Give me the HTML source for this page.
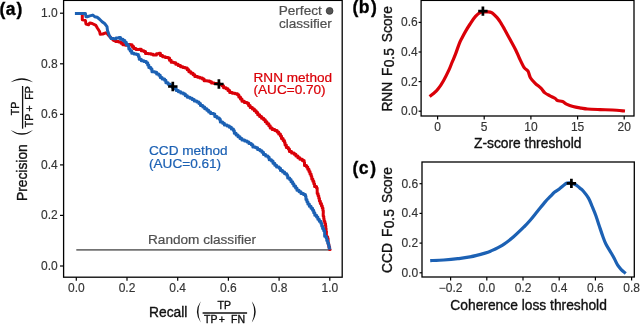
<!DOCTYPE html>
<html><head><meta charset="utf-8"><style>
html,body{margin:0;padding:0;background:#fff;width:640px;height:324px;overflow:hidden}
svg{display:block;will-change:transform}
</style></head><body>
<svg width="640" height="324" viewBox="0 0 640 324">
<rect width="640" height="324" fill="#fff"/>
<g font-family="&quot;Liberation Sans&quot;, sans-serif">
<rect x="63.6" y="0.4" width="278.6" height="276.8" fill="none" stroke="#000000" stroke-width="1.3"/>
<line x1="60" y1="266.0" x2="63.6" y2="266.0" stroke="#000000" stroke-width="1.2"/>
<text x="57.8" y="269.95" font-size="12" text-anchor="end" fill="#333333" stroke="#333333" stroke-width="0.15">0.0</text>
<line x1="60" y1="215.4" x2="63.6" y2="215.4" stroke="#000000" stroke-width="1.2"/>
<text x="57.8" y="219.35" font-size="12" text-anchor="end" fill="#333333" stroke="#333333" stroke-width="0.15">0.2</text>
<line x1="60" y1="164.9" x2="63.6" y2="164.9" stroke="#000000" stroke-width="1.2"/>
<text x="57.8" y="168.85" font-size="12" text-anchor="end" fill="#333333" stroke="#333333" stroke-width="0.15">0.4</text>
<line x1="60" y1="114.3" x2="63.6" y2="114.3" stroke="#000000" stroke-width="1.2"/>
<text x="57.8" y="118.25" font-size="12" text-anchor="end" fill="#333333" stroke="#333333" stroke-width="0.15">0.6</text>
<line x1="60" y1="63.8" x2="63.6" y2="63.8" stroke="#000000" stroke-width="1.2"/>
<text x="57.8" y="67.75" font-size="12" text-anchor="end" fill="#333333" stroke="#333333" stroke-width="0.15">0.8</text>
<line x1="60" y1="13.2" x2="63.6" y2="13.2" stroke="#000000" stroke-width="1.2"/>
<text x="57.8" y="17.15" font-size="12" text-anchor="end" fill="#333333" stroke="#333333" stroke-width="0.15">1.0</text>
<line x1="76.3" y1="277.2" x2="76.3" y2="280.8" stroke="#000000" stroke-width="1.2"/>
<text x="76.3" y="291.8" font-size="12" text-anchor="middle" fill="#333333" stroke="#333333" stroke-width="0.15">0.0</text>
<line x1="127.0" y1="277.2" x2="127.0" y2="280.8" stroke="#000000" stroke-width="1.2"/>
<text x="127.0" y="291.8" font-size="12" text-anchor="middle" fill="#333333" stroke="#333333" stroke-width="0.15">0.2</text>
<line x1="177.7" y1="277.2" x2="177.7" y2="280.8" stroke="#000000" stroke-width="1.2"/>
<text x="177.7" y="291.8" font-size="12" text-anchor="middle" fill="#333333" stroke="#333333" stroke-width="0.15">0.4</text>
<line x1="228.4" y1="277.2" x2="228.4" y2="280.8" stroke="#000000" stroke-width="1.2"/>
<text x="228.4" y="291.8" font-size="12" text-anchor="middle" fill="#333333" stroke="#333333" stroke-width="0.15">0.6</text>
<line x1="279.1" y1="277.2" x2="279.1" y2="280.8" stroke="#000000" stroke-width="1.2"/>
<text x="279.1" y="291.8" font-size="12" text-anchor="middle" fill="#333333" stroke="#333333" stroke-width="0.15">0.8</text>
<line x1="329.8" y1="277.2" x2="329.8" y2="280.8" stroke="#000000" stroke-width="1.2"/>
<text x="329.8" y="291.8" font-size="12" text-anchor="middle" fill="#333333" stroke="#333333" stroke-width="0.15">1.0</text>
<line x1="76.3" y1="249.9" x2="329.8" y2="249.9" stroke="#737373" stroke-width="1.6"/>
<text x="148" y="243.7" font-size="13.6" fill="#505050" stroke="#505050" stroke-width="0.22">Random classifier</text>
<circle cx="329.6" cy="10.9" r="3.4" fill="#555" stroke="#333" stroke-width="0.8"/>
<text x="321.8" y="14.8" font-size="13.6" text-anchor="end" fill="#505050" stroke="#505050" stroke-width="0.22">Perfect</text>
<text x="331.8" y="27.9" font-size="13.6" text-anchor="end" fill="#505050" stroke="#505050" stroke-width="0.22">classifier</text>
<path d="M75.00,13.40 L82.30,13.40 L82.30,19.80 L85.40,20.40 L86.00,24.10 L88.50,24.80 L89.80,22.90 L92.20,23.50 L95.90,25.40 L97.20,27.80 L99.60,31.50 L100.20,34.30 L102.70,34.00 L105.80,32.80 L107.00,33.40 L108.70,35.50 L113.60,40.40 L113.60,40.40 L115.69,40.40 L115.69,41.62 L118.79,41.62 L118.79,41.92 L121.05,41.92 L121.05,43.14 L122.87,43.14 L122.87,44.80 L125.49,44.80 L125.49,45.22 L127.95,45.22 L127.95,44.60 L130.34,44.60 L130.34,44.64 L132.09,44.64 L132.09,46.51 L133.63,46.51 L133.63,48.55 L136.01,48.55 L136.01,49.41 L139.33,49.41 L139.33,49.23 L141.30,49.23 L141.30,50.68 L143.93,50.68 L143.93,51.54 L145.50,51.54 L145.50,53.48 L148.41,53.48 L148.41,53.82 L151.18,53.82 L151.18,54.29 L153.22,54.29 L153.22,54.94 L156.47,54.94 L156.47,53.74 L158.97,53.74 L158.97,53.35 L160.43,53.35 L160.43,55.39 L162.65,55.39 L162.65,56.72 L165.36,56.72 L165.36,57.56 L168.22,57.56 L168.22,57.97 L169.51,57.97 L169.51,60.24 L171.17,60.24 L171.17,62.17 L173.82,62.17 L173.82,62.83 L175.76,62.83 L175.76,64.37 L178.19,64.37 L178.19,65.49 L180.56,65.49 L180.56,66.73 L182.99,66.73 L182.99,67.51 L185.27,67.51 L185.27,68.08 L187.22,68.08 L187.22,69.80 L188.88,69.80 L188.88,71.80 L190.92,71.80 L190.92,73.36 L193.09,73.36 L193.09,74.66 L194.82,74.66 L194.82,76.55 L197.69,76.55 L197.69,77.17 L199.94,77.17 L199.94,78.06 L202.42,78.06 L202.42,78.89 L204.12,78.89 L204.12,80.79 L207.31,80.79 L207.31,80.92 L209.70,80.92 L209.70,81.66 L211.50,81.66 L211.50,83.04 L214.22,83.04 L214.22,83.50 L217.10,83.50 L217.10,83.81 L219.60,83.81 L219.60,84.52 L222.01,84.52 L222.01,85.64 L223.59,85.64 L223.59,87.69 L226.08,87.69 L226.08,88.85 L227.99,88.85 L227.99,90.58 L229.70,90.58 L229.70,92.51 L232.39,92.51 L232.39,93.19 L235.11,93.19 L235.11,93.82 L237.51,93.82 L237.51,94.77 L238.81,94.77 L238.81,97.08 L240.45,97.08 L240.45,99.09 L241.98,99.09 L241.98,101.16 L244.36,101.16 L244.36,102.38 L247.07,102.38 L247.07,103.27 L248.57,103.27 L248.57,105.44 L250.17,105.44 L250.17,107.51 L252.38,107.51 L252.38,108.98 L254.37,108.98 L254.37,110.67 L256.18,110.67 L256.18,112.54 L257.72,112.54 L257.72,114.67 L259.63,114.67 L259.63,116.44 L261.55,116.44 L261.55,118.20 L263.66,118.20 L263.66,119.76 L265.27,119.76 L265.27,121.83 L266.93,121.83 L266.93,123.84 L268.81,123.84 L268.81,125.65 L270.20,125.65 L270.20,127.92 L272.20,127.92 L272.20,129.59 L274.83,129.59 L274.83,130.62 L277.09,130.62 L277.09,132.02 L278.69,132.02 L278.69,134.09 L280.42,134.09 L280.42,136.02 L281.49,136.02 L281.49,138.49 L283.11,138.49 L283.11,140.42 L284.43,140.42 L284.43,142.41 L285.07,142.41 L285.07,145.07 L286.35,145.07 L286.35,147.38 L288.36,147.38 L288.36,149.04 L289.44,149.04 L289.44,151.62 L291.61,151.62 L291.61,153.10 L294.15,153.10 L294.15,154.19 L295.89,154.19 L295.89,156.07 L297.91,156.07 L297.91,157.67 L299.90,157.67 L299.90,159.29 L302.34,159.29 L302.34,160.45 L304.15,160.45 L304.15,162.19 L304.51,162.19 L304.51,165.38 L306.55,165.38 L306.55,166.88 L307.76,166.88 L307.76,169.17 L308.98,169.17 L308.98,171.43 L310.00,171.43 L310.00,173.90 L311.09,173.90 L311.09,176.22 L311.78,176.22 L311.78,178.91 L312.87,178.91 L312.87,181.25 L313.83,181.25 L313.83,183.75 L314.57,183.75 L314.57,186.46 L316.51,186.46 L316.51,188.00 L317.17,188.00 L317.17,190.69 L317.20,190.69 L317.20,193.62 L318.05,193.62 L318.05,195.86 L318.77,195.86 L318.77,198.37 L319.43,198.37 L319.43,200.97 L320.32,200.97 L320.32,203.42 L321.42,203.42 L321.42,205.67 L322.25,205.67 L322.25,208.07 L322.93,208.07 L322.93,210.59 L323.28,210.59 L323.28,213.29 L323.21,213.29 L323.21,216.28 L323.77,216.28 L323.77,218.66 L324.08,218.66 L324.08,221.29 L324.85,221.29 L324.85,223.46 L325.49,223.46 L325.49,225.77 L325.78,225.77 L325.78,228.40 L326.08,228.40 L326.08,230.99 L326.41,230.99 L326.41,233.55 L326.39,233.55 L326.39,236.64 L327.61,236.64 L327.61,238.58 L328.09,238.58 L328.09,241.27 L328.18,241.27 L328.18,244.36 L328.86,244.36 L328.86,246.91 L329.60,246.91 L329.60,249.41 L330.10,249.41 L330.10,249.00" fill="none" stroke="#da0008" stroke-width="3.0" stroke-linejoin="round" stroke-linecap="butt"/>
<path d="M74.90,13.40 L85.40,13.40 L86.00,16.70 L87.30,16.70 L89.80,15.90 L92.80,15.10 L94.70,16.70 L97.20,17.30 L99.60,19.20 L102.10,21.70 L104.60,23.50 L107.00,26.60 L107.50,30.60 L109.30,35.50 L111.20,38.60 L111.20,38.60 L113.63,38.60 L113.63,38.77 L115.88,38.77 L115.88,38.11 L118.83,38.11 L118.83,37.54 L120.52,37.54 L120.52,39.30 L123.02,39.30 L123.02,40.44 L124.88,40.44 L124.88,42.24 L126.31,42.24 L126.31,44.44 L128.21,44.44 L128.21,46.15 L128.84,46.15 L128.84,48.96 L130.24,48.96 L130.24,50.97 L131.72,50.97 L131.72,53.16 L134.05,53.16 L134.05,54.07 L136.69,54.07 L136.69,54.52 L138.39,54.52 L138.39,56.38 L139.22,56.38 L139.22,59.17 L141.31,59.17 L141.31,60.67 L143.96,60.67 L143.96,61.57 L146.31,61.57 L146.31,62.83 L147.70,62.83 L147.70,65.10 L148.83,65.10 L148.83,67.53 L150.88,67.53 L150.88,69.06 L151.96,69.06 L151.96,71.64 L154.88,71.64 L154.88,72.32 L156.63,72.32 L156.63,74.07 L158.83,74.07 L158.83,75.35 L160.25,75.35 L160.25,77.39 L162.14,77.39 L162.14,79.10 L164.63,79.10 L164.63,80.27 L165.88,80.27 L165.88,82.70 L168.11,82.70 L168.11,84.15 L170.28,84.15 L170.28,85.59 L172.19,85.59 L172.19,87.27 L174.52,87.27 L174.52,88.56 L176.21,88.56 L176.21,90.46 L178.42,90.46 L178.42,91.84 L180.80,91.84 L180.80,93.02 L183.48,93.02 L183.48,93.91 L185.35,93.91 L185.35,95.67 L187.37,95.67 L187.37,97.26 L189.97,97.26 L189.97,98.16 L192.16,98.16 L192.16,99.45 L194.23,99.45 L194.23,100.95 L196.87,100.95 L196.87,101.92 L198.92,101.92 L198.92,103.49 L200.48,103.49 L200.48,105.58 L202.81,105.58 L202.81,106.91 L204.71,106.91 L204.71,108.68 L206.87,108.68 L206.87,110.20 L208.68,110.20 L208.68,112.00 L210.59,112.00 L210.59,113.58 L213.60,113.58 L213.60,114.04 L214.77,114.04 L214.77,116.52 L217.06,116.52 L217.06,117.90 L219.33,117.90 L219.33,119.28 L220.31,119.28 L220.31,121.95 L222.64,121.95 L222.64,123.23 L224.37,123.23 L224.37,125.11 L227.15,125.11 L227.15,125.93 L229.40,125.93 L229.40,127.28 L231.37,127.28 L231.37,128.92 L233.40,128.92 L233.40,130.50 L234.29,130.50 L234.29,133.22 L236.09,133.22 L236.09,135.01 L238.00,135.01 L238.00,136.76 L240.00,136.76 L240.00,138.42 L241.96,138.42 L241.96,140.09 L244.66,140.09 L244.66,140.88 L247.08,140.88 L247.08,141.94 L248.94,141.94 L248.94,143.57 L251.29,143.57 L251.29,144.84 L252.85,144.84 L252.85,146.88 L255.59,146.88 L255.59,147.77 L257.60,147.77 L257.60,149.40 L260.00,149.40 L260.00,150.65 L261.92,150.65 L261.92,152.37 L263.48,152.37 L263.48,154.45 L265.66,154.45 L265.66,155.90 L267.97,155.90 L267.97,157.24 L269.18,157.24 L269.18,159.71 L271.45,159.71 L271.45,161.12 L273.00,161.12 L273.00,163.25 L274.78,163.25 L274.78,165.14 L276.57,165.14 L276.57,167.03 L279.13,167.03 L279.13,168.14 L280.49,168.14 L280.49,170.44 L282.60,170.44 L282.60,172.00 L284.62,172.00 L284.62,173.64 L286.77,173.64 L286.77,175.16 L287.67,175.16 L287.67,177.92 L289.67,177.92 L289.67,179.57 L291.04,179.57 L291.04,181.74 L292.63,181.74 L292.63,183.69 L293.83,183.69 L293.83,186.02 L295.57,186.02 L295.57,187.90 L296.96,187.90 L296.96,190.17 L299.06,190.17 L299.06,191.74 L300.99,191.74 L300.99,193.47 L303.51,193.47 L303.51,194.61 L305.40,194.61 L305.40,196.36 L305.94,196.36 L305.94,199.39 L306.93,199.39 L306.93,201.75 L307.87,201.75 L307.87,204.10 L309.32,204.10 L309.32,206.26 L311.02,206.26 L311.02,208.17 L312.58,208.17 L312.58,210.22 L313.71,210.22 L313.71,212.70 L314.80,212.70 L314.80,215.18 L316.55,215.18 L316.55,216.99 L317.85,216.99 L317.85,219.27 L319.28,219.27 L319.28,221.36 L320.82,221.36 L320.82,223.31 L321.72,223.31 L321.72,225.89 L322.58,225.89 L322.58,228.45 L323.72,228.45 L323.72,230.74 L324.61,230.74 L324.61,233.13 L324.65,233.13 L324.65,236.26 L326.13,236.26 L326.13,237.95 L326.74,237.95 L326.74,240.56 L327.73,240.56 L327.73,242.91 L328.57,242.91 L328.57,245.42 L329.11,245.42 L329.11,248.24 L329.70,248.24 L329.70,249.40" fill="none" stroke="#1c61b4" stroke-width="3.0" stroke-linejoin="round" stroke-linecap="butt"/>
<path d="M168.1,86.5H177.5M172.8,81.8V91.2" stroke="#000" stroke-width="2.7" fill="none"/>
<path d="M214.2,84.0H223.6M218.9,79.3V88.7" stroke="#000" stroke-width="2.7" fill="none"/>
<text x="253.5" y="81.6" font-size="13.6" fill="#da0008" stroke="#da0008" stroke-width="0.22">RNN method</text>
<text x="253.5" y="93.9" font-size="13.6" fill="#da0008" stroke="#da0008" stroke-width="0.22">(AUC=0.70)</text>
<text x="149" y="154.5" font-size="13.6" fill="#1c61b4" stroke="#1c61b4" stroke-width="0.22">CCD method</text>
<text x="149" y="168.0" font-size="13.6" fill="#1c61b4" stroke="#1c61b4" stroke-width="0.22">(AUC=0.61)</text>
<text x="149" y="316.6" font-size="13.8" fill="#111" stroke="#111" stroke-width="0.35">Recall</text>
<text x="217.55" y="309.2" font-size="10.5" fill="#111" stroke="#111" stroke-width="0.35">TP</text>
<line x1="202.6" y1="313" x2="247.1" y2="313" stroke="#111" stroke-width="1.3"/>
<text x="204.05" y="322.5" font-size="10.5" fill="#111" stroke="#111" stroke-width="0.35">TP</text>
<text x="218.8" y="322.5" font-size="10.5" fill="#111" stroke="#111" stroke-width="0.35">+</text>
<text x="231.1" y="322.5" font-size="10.5" fill="#111" stroke="#111" stroke-width="0.35">FN</text>
<path d="M200.80,301.20 Q193.00,311.80 200.80,322.40 Q196.00,311.80 200.80,301.20Z" fill="#111"/>
<path d="M251.80,301.20 Q259.60,311.80 251.80,322.40 Q256.60,311.80 251.80,301.20Z" fill="#111"/>
<g transform="translate(26.7,201) rotate(-90)">
<text x="0" y="0" font-size="13.8" fill="#111" stroke="#111" stroke-width="0.35">Precision</text>
</g>
<g transform="translate(18.9,115.2) rotate(-90)"><text x="0" y="0" font-size="10.5" fill="#111" stroke="#111" stroke-width="0.35">TP</text></g>
<line x1="22.6" y1="86" x2="22.6" y2="128.7" stroke="#111" stroke-width="1.3"/>
<g transform="translate(32.5,127.25) rotate(-90)"><text x="0" y="0" font-size="10.5" fill="#111" stroke="#111" stroke-width="0.35">TP</text></g>
<g transform="translate(32.5,111.4) rotate(-90)"><text x="0" y="0" font-size="10.5" fill="#111" stroke="#111" stroke-width="0.35">+</text></g>
<g transform="translate(32.5,99.75) rotate(-90)"><text x="0" y="0" font-size="10.5" fill="#111" stroke="#111" stroke-width="0.35">FP</text></g>
<path d="M10.60,82.20 Q21.85,74.20 33.10,82.20 Q21.85,77.20 10.60,82.20Z" fill="#111"/>
<path d="M10.60,129.90 Q21.85,139.70 33.10,129.90 Q21.85,136.70 10.60,129.90Z" fill="#111"/>
<text x="-0.5" y="15.1" font-size="17.5" font-weight="bold" fill="#000" stroke="#000" stroke-width="0.35">(<tspan dx="0.4">a</tspan><tspan dx="1.0">)</tspan></text>
<rect x="421.1" y="0.4" width="212.9" height="115.6" fill="none" stroke="#000000" stroke-width="1.3"/>
<line x1="418.6" y1="111.2" x2="421.1" y2="111.2" stroke="#000000" stroke-width="1.2"/>
<text x="417.7" y="115.15" font-size="12" text-anchor="end" fill="#333333" stroke="#333333" stroke-width="0.15">0.0</text>
<line x1="418.6" y1="81.6" x2="421.1" y2="81.6" stroke="#000000" stroke-width="1.2"/>
<text x="417.7" y="85.55" font-size="12" text-anchor="end" fill="#333333" stroke="#333333" stroke-width="0.15">0.2</text>
<line x1="418.6" y1="52.0" x2="421.1" y2="52.0" stroke="#000000" stroke-width="1.2"/>
<text x="417.7" y="55.95" font-size="12" text-anchor="end" fill="#333333" stroke="#333333" stroke-width="0.15">0.4</text>
<line x1="418.6" y1="22.4" x2="421.1" y2="22.4" stroke="#000000" stroke-width="1.2"/>
<text x="417.7" y="26.35" font-size="12" text-anchor="end" fill="#333333" stroke="#333333" stroke-width="0.15">0.6</text>
<line x1="437.6" y1="116" x2="437.6" y2="119.5" stroke="#000000" stroke-width="1.2"/>
<text x="437.6" y="130.5" font-size="12" text-anchor="middle" fill="#333333" stroke="#333333" stroke-width="0.15">0</text>
<line x1="484.2" y1="116" x2="484.2" y2="119.5" stroke="#000000" stroke-width="1.2"/>
<text x="484.2" y="130.5" font-size="12" text-anchor="middle" fill="#333333" stroke="#333333" stroke-width="0.15">5</text>
<line x1="530.9" y1="116" x2="530.9" y2="119.5" stroke="#000000" stroke-width="1.2"/>
<text x="530.9" y="130.5" font-size="12" text-anchor="middle" fill="#333333" stroke="#333333" stroke-width="0.15">10</text>
<line x1="577.6" y1="116" x2="577.6" y2="119.5" stroke="#000000" stroke-width="1.2"/>
<text x="577.6" y="130.5" font-size="12" text-anchor="middle" fill="#333333" stroke="#333333" stroke-width="0.15">15</text>
<line x1="624.2" y1="116" x2="624.2" y2="119.5" stroke="#000000" stroke-width="1.2"/>
<text x="624.2" y="130.5" font-size="12" text-anchor="middle" fill="#333333" stroke="#333333" stroke-width="0.15">20</text>
<path d="M429.60,96.50 C430.25,96.00 432.10,94.73 433.50,93.50 C434.90,92.27 436.33,91.23 438.00,89.10 C439.67,86.97 441.65,83.95 443.50,80.70 C445.35,77.45 447.68,72.63 449.10,69.60 C450.52,66.57 450.95,65.03 452.00,62.50 C453.05,59.97 454.18,57.55 455.40,54.40 C456.62,51.25 458.20,46.33 459.30,43.60 C460.40,40.87 460.98,40.00 462.00,38.00 C463.02,36.00 464.05,33.93 465.40,31.60 C466.75,29.27 468.42,26.55 470.10,24.00 C471.78,21.45 473.70,18.25 475.50,16.30 C477.30,14.35 478.98,13.03 480.90,12.30 C482.82,11.57 485.20,11.85 487.00,11.90 C488.80,11.95 490.02,11.65 491.70,12.60 C493.38,13.55 495.58,15.90 497.10,17.60 C498.62,19.30 499.57,20.85 500.80,22.80 C502.03,24.75 502.95,26.52 504.50,29.30 C506.05,32.08 508.25,36.10 510.10,39.50 C511.95,42.90 514.07,46.62 515.60,49.70 C517.13,52.78 517.90,55.07 519.30,58.00 C520.70,60.93 522.55,65.10 524.00,67.30 C525.45,69.50 526.93,69.47 528.00,71.20 C529.07,72.93 529.20,75.68 530.40,77.70 C531.60,79.72 533.45,81.57 535.20,83.30 C536.95,85.03 539.28,86.50 540.90,88.10 C542.52,89.70 543.38,91.62 544.90,92.90 C546.42,94.18 548.27,94.87 550.00,95.80 C551.73,96.73 554.05,97.70 555.30,98.50 C556.55,99.30 556.30,100.10 557.50,100.60 C558.70,101.10 561.00,100.92 562.50,101.50 C564.00,102.08 564.75,103.27 566.50,104.10 C568.25,104.93 570.53,105.83 573.00,106.50 C575.47,107.17 578.88,107.68 581.30,108.10 C583.72,108.52 584.38,108.75 587.50,109.00 C590.62,109.25 595.83,109.43 600.00,109.60 C604.17,109.77 608.33,109.77 612.50,110.00 C616.67,110.23 622.92,110.83 625.00,111.00" fill="none" stroke="#da0008" stroke-width="3.2" stroke-linejoin="round" stroke-linecap="butt"/>
<path d="M478.2,11.1H487.6M482.9,6.4V15.8" stroke="#000" stroke-width="2.7" fill="none"/>
<text x="527.7" y="147.6" font-size="13.8" text-anchor="middle" fill="#111" stroke="#111" stroke-width="0.35">Z-score threshold</text>
<g transform="translate(392.2,111.6) rotate(-90)"><text x="0" y="0" font-size="13.8" fill="#111" stroke="#111" stroke-width="0.35">RNN</text></g>
<g transform="translate(392.2,76.1) rotate(-90)"><text x="0" y="0" font-size="13.8" fill="#111" stroke="#111" stroke-width="0.35">F</text></g>
<g transform="translate(392.2,42.2) rotate(-90)"><text x="0" y="0" font-size="13.8" fill="#111" stroke="#111" stroke-width="0.35">Score</text></g>
<g transform="translate(393.6,67.3) rotate(-90)"><text x="0" y="0" font-size="13.8" fill="#111" stroke="#111" stroke-width="0.35">0.5</text></g>
<text x="352.5" y="13.3" font-size="17.5" font-weight="bold" fill="#000" stroke="#000" stroke-width="0.35">(<tspan dx="0.3">b</tspan><tspan dx="1.7">)</tspan></text>
<rect x="422" y="162" width="212.3" height="115" fill="none" stroke="#000000" stroke-width="1.3"/>
<line x1="419.5" y1="272.8" x2="422" y2="272.8" stroke="#000000" stroke-width="1.2"/>
<text x="418.1" y="276.75" font-size="12" text-anchor="end" fill="#333333" stroke="#333333" stroke-width="0.15">0.0</text>
<line x1="419.5" y1="243.1" x2="422" y2="243.1" stroke="#000000" stroke-width="1.2"/>
<text x="418.1" y="247.05" font-size="12" text-anchor="end" fill="#333333" stroke="#333333" stroke-width="0.15">0.2</text>
<line x1="419.5" y1="213.4" x2="422" y2="213.4" stroke="#000000" stroke-width="1.2"/>
<text x="418.1" y="217.35" font-size="12" text-anchor="end" fill="#333333" stroke="#333333" stroke-width="0.15">0.4</text>
<line x1="419.5" y1="183.7" x2="422" y2="183.7" stroke="#000000" stroke-width="1.2"/>
<text x="418.1" y="187.65" font-size="12" text-anchor="end" fill="#333333" stroke="#333333" stroke-width="0.15">0.6</text>
<line x1="450.6" y1="277" x2="450.6" y2="280.6" stroke="#000000" stroke-width="1.2"/>
<text x="450.6" y="291.6" font-size="12" text-anchor="middle" fill="#333333" stroke="#333333" stroke-width="0.15">−0.2</text>
<line x1="486.8" y1="277" x2="486.8" y2="280.6" stroke="#000000" stroke-width="1.2"/>
<text x="486.8" y="291.6" font-size="12" text-anchor="middle" fill="#333333" stroke="#333333" stroke-width="0.15">0.0</text>
<line x1="523.0" y1="277" x2="523.0" y2="280.6" stroke="#000000" stroke-width="1.2"/>
<text x="523.0" y="291.6" font-size="12" text-anchor="middle" fill="#333333" stroke="#333333" stroke-width="0.15">0.2</text>
<line x1="559.2" y1="277" x2="559.2" y2="280.6" stroke="#000000" stroke-width="1.2"/>
<text x="559.2" y="291.6" font-size="12" text-anchor="middle" fill="#333333" stroke="#333333" stroke-width="0.15">0.4</text>
<line x1="595.4" y1="277" x2="595.4" y2="280.6" stroke="#000000" stroke-width="1.2"/>
<text x="595.4" y="291.6" font-size="12" text-anchor="middle" fill="#333333" stroke="#333333" stroke-width="0.15">0.6</text>
<line x1="631.6" y1="277" x2="631.6" y2="280.6" stroke="#000000" stroke-width="1.2"/>
<text x="631.6" y="291.6" font-size="12" text-anchor="middle" fill="#333333" stroke="#333333" stroke-width="0.15">0.8</text>
<path d="M430.20,260.60 C432.45,260.50 439.10,260.32 443.70,260.00 C448.30,259.68 453.42,259.22 457.80,258.70 C462.18,258.18 465.47,257.83 470.00,256.90 C474.53,255.97 481.48,254.10 485.00,253.10 C488.52,252.10 488.23,252.18 491.10,250.90 C493.97,249.62 498.50,247.72 502.20,245.40 C505.90,243.08 509.60,240.15 513.30,237.00 C517.00,233.85 521.62,229.25 524.40,226.50 C527.18,223.75 527.78,223.08 530.00,220.50 C532.22,217.92 535.13,214.15 537.70,211.00 C540.27,207.85 543.33,203.98 545.40,201.60 C547.47,199.22 548.55,198.28 550.10,196.70 C551.65,195.12 553.17,193.38 554.70,192.10 C556.23,190.82 557.75,190.17 559.30,189.00 C560.85,187.83 562.72,186.08 564.00,185.10 C565.28,184.12 565.72,183.43 567.00,183.10 C568.28,182.77 570.15,182.77 571.70,183.10 C573.25,183.43 574.92,184.25 576.30,185.10 C577.68,185.95 578.88,187.27 580.00,188.20 C581.12,189.13 581.58,189.05 583.00,190.70 C584.42,192.35 586.97,195.47 588.50,198.10 C590.03,200.73 590.97,203.57 592.20,206.50 C593.43,209.43 594.72,212.45 595.90,215.70 C597.08,218.95 598.17,222.62 599.30,226.00 C600.43,229.38 601.58,232.95 602.70,236.00 C603.82,239.05 604.62,241.52 606.00,244.30 C607.38,247.08 609.62,250.33 611.00,252.70 C612.38,255.07 613.18,256.42 614.30,258.50 C615.42,260.58 616.58,263.40 617.70,265.20 C618.82,267.00 619.67,267.92 621.00,269.30 C622.33,270.68 624.92,272.80 625.70,273.50" fill="none" stroke="#1c61b4" stroke-width="3.2" stroke-linejoin="round" stroke-linecap="butt"/>
<path d="M566.7,183.4H576.1M571.4,178.7V188.1" stroke="#000" stroke-width="2.7" fill="none"/>
<text x="528.6" y="309.5" font-size="13.8" text-anchor="middle" fill="#111" stroke="#111" stroke-width="0.35">Coherence loss threshold</text>
<g transform="translate(392.2,273.0) rotate(-90)"><text x="0" y="0" font-size="13.8" fill="#111" stroke="#111" stroke-width="0.35">CCD</text></g>
<g transform="translate(392.2,237.0) rotate(-90)"><text x="0" y="0" font-size="13.8" fill="#111" stroke="#111" stroke-width="0.35">F</text></g>
<g transform="translate(392.2,203.1) rotate(-90)"><text x="0" y="0" font-size="13.8" fill="#111" stroke="#111" stroke-width="0.35">Score</text></g>
<g transform="translate(393.6,228.3) rotate(-90)"><text x="0" y="0" font-size="13.8" fill="#111" stroke="#111" stroke-width="0.35">0.5</text></g>
<text x="352.6" y="174.4" font-size="17.5" font-weight="bold" fill="#000" stroke="#000" stroke-width="0.35">(<tspan dx="0.4">c</tspan><tspan dx="1.6">)</tspan></text>
</g></svg>
</body></html>
